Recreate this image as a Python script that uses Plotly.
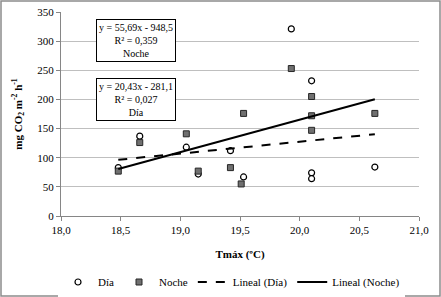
import plotly.graph_objects as go

# Data
dia_x = [18.48, 18.66, 19.05, 19.15, 19.42, 19.53, 19.93, 20.10, 20.10, 20.10, 20.63]
dia_y = [83, 137, 118, 72, 112, 67, 321, 232, 74, 64, 84]
noche_x = [18.48, 18.66, 19.05, 19.15, 19.42, 19.51, 19.53, 19.93, 20.10, 20.10, 20.10, 20.63]
noche_y = [77, 126, 141, 77, 83, 55, 176, 253, 205, 172, 147, 176]

# Trend line coefficients (from labels)
dia_slope, dia_intercept, dia_r2 = 20.43, -281.1, 0.027
noche_slope, noche_intercept, noche_r2 = 55.69, -948.5, 0.359

x_ticks = [18.0, 18.5, 19.0, 19.5, 20.0, 20.5, 21.0]
y_ticks = [0, 50, 100, 150, 200, 250, 300, 350]

FONT = "Liberation Serif"

xmin, xmax = min(noche_x + dia_x), max(noche_x + dia_x)
trend_x = [xmin, xmax]

fig = go.Figure()
fig.add_trace(go.Scatter(
    x=dia_x, y=dia_y, mode="markers", name="Día",
    marker=dict(symbol="circle", size=6, color="white",
                line=dict(color="black", width=1.2))))
fig.add_trace(go.Scatter(
    x=noche_x, y=noche_y, mode="markers", name="Noche",
    marker=dict(symbol="square", size=6, color="#707070",
                line=dict(color="#262626", width=1))))
fig.add_trace(go.Scatter(
    x=trend_x, y=[dia_slope * v + dia_intercept for v in trend_x],
    mode="lines", name="Lineal (Día)",
    line=dict(color="black", width=2, dash="dash")))
fig.add_trace(go.Scatter(
    x=trend_x, y=[noche_slope * v + noche_intercept for v in trend_x],
    mode="lines", name="Lineal (Noche)",
    line=dict(color="black", width=2)))

def fmt(v, d):
    return f"{abs(v):.{d}f}".replace(".", ",")

def eq_text(slope, intercept, r2, label):
    sign = "-" if intercept < 0 else "+"
    return (f"y = {fmt(slope, 2)}x {sign} {fmt(intercept, 1)}<br>"
            f"R² = {fmt(r2, 3)}<br>{label}")

fig.add_annotation(
    x=18.63, y=301, xref="x", yref="y", showarrow=False,
    text=eq_text(noche_slope, noche_intercept, noche_r2, "Noche"),
    font=dict(family=FONT, size=10, color="black"),
    bordercolor="black", borderwidth=1, borderpad=2, bgcolor="white",
    align="center")
fig.add_annotation(
    x=18.63, y=200, xref="x", yref="y", showarrow=False,
    text=eq_text(dia_slope, dia_intercept, dia_r2, "Día"),
    font=dict(family=FONT, size=10, color="black"),
    bordercolor="black", borderwidth=1, borderpad=2, bgcolor="white",
    align="center")

L, R, T, B = 61, 22, 12, 81
W, H = 441, 297
pw, ph = W - L - R, H - T - B
fig.add_shape(type="rect", xref="paper", yref="paper",
              x0=(1 - L) / pw, x1=(W - 1 - L) / pw,
              y0=-(B - 1) / ph, y1=(H - B - 1) / ph,
              line=dict(color="#8C8C8C", width=1.5), layer="above")

fig.update_layout(
    width=W, height=H,
    margin=dict(l=L, r=R, t=T, b=B, autoexpand=False),
    paper_bgcolor="white", plot_bgcolor="white",
    separators=",.",
    font=dict(family=FONT, size=11, color="black"),
    showlegend=True,
    legend=dict(orientation="h", x=(58 - L) / pw, xanchor="left",
                y=-(282 - (H - B)) / ph, yanchor="middle",
                font=dict(family=FONT, size=11, color="black"), itemwidth=30,
                traceorder="normal"),
    xaxis=dict(range=[18.0, 21.0], tickvals=x_ticks, tickformat=".1f",
               tickfont=dict(family=FONT, size=11, color="black"),
               ticklabeloverflow="allow", automargin=False,
               showgrid=False, zeroline=False, showline=True,
               linecolor="#868686", linewidth=1, ticks="outside",
               ticklen=4, tickcolor="#868686",
               title=dict(text="<b>Tmáx (ºC)</b>", standoff=15,
                          font=dict(family=FONT, size=11, color="black"))),
    yaxis=dict(range=[0, 350], tickvals=y_ticks, automargin=False,
               tickfont=dict(family=FONT, size=11, color="black"),
               showgrid=True, gridcolor="#BFBFBF", gridwidth=1,
               zeroline=False, showline=True,
               linecolor="#868686", linewidth=1, ticks="outside",
               ticklen=4, tickcolor="#868686",
               title=dict(text="<b>mg CO<sub>2</sub> m<sup>-2</sup> h<sup>-1</sup></b>",
                          standoff=12, font=dict(family=FONT, size=11, color="black"))),
)

fig.write_html("out.html", config={"displayModeBar": False},
               post_script="document.body.style.margin='0';document.body.style.overflow='hidden';")
